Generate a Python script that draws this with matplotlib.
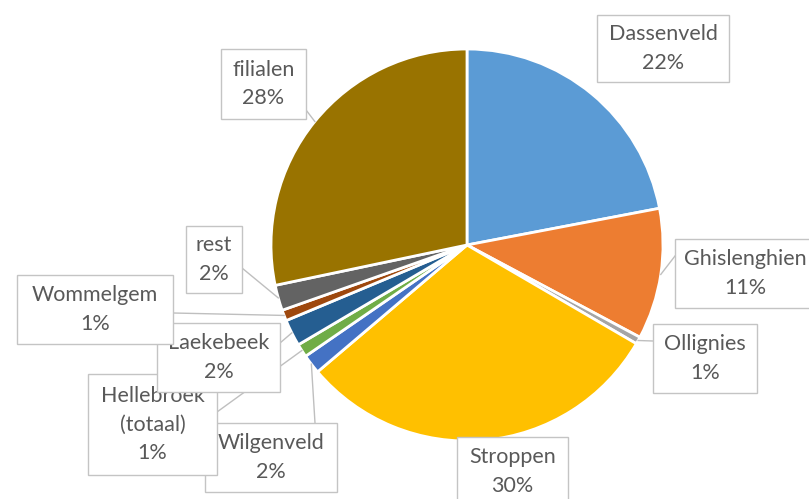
import numpy as np
import matplotlib.pyplot as plt
from matplotlib.patches import Rectangle

plt.rcParams['font.family'] = ['Lato', 'DejaVu Sans']

# aandeel per locatie (%), met de klok mee vanaf boven
names = ['Dassenveld', 'Ghislenghien', 'Ollignies', 'Stroppen', 'Wilgenveld',
         'Hellebroek\n(totaal)', 'Laekebeek', 'Wommelgem', 'rest', 'filialen']
shares = [22.0, 10.8, 0.6, 30.4, 1.6, 1.1, 2.2, 0.9, 2.1, 28.3]
colors = ['#5B9BD5', '#ED7D31', '#A5A5A5', '#FFC000', '#4472C4',
          '#70AD47', '#255E91', '#9E480E', '#636363', '#997300']

W, H = 809, 499
cx, cy, R = 467, 245, 196

# labelkaders (x0, y0, x1, y1 in pixels, y naar beneden) en begin van de lijn
boxes = [(597, 15, 729, 82), (675, 239, 815, 308), (653, 324, 757, 393),
         (457, 437, 568, 506), (205, 423, 337, 492), (88, 374, 217, 475),
         (157, 323, 280, 392), (17, 275, 173, 344), (186, 226, 242, 293),
         (221, 49, 306, 119)]
leader_from = [None, (675, 256), (653, 341), None, (315, 423),
               (217, 412), (280, 343), (173, 313), (242, 268), (303, 106)]
label_z = [5, 5, 5, 5, 3, 4, 5, 6, 5, 5]

fig = plt.figure(figsize=(W / 100, H / 100), dpi=100)
ax = fig.add_axes([0, 0, 1, 1])

ax.pie(shares, colors=colors, startangle=90, counterclock=False,
       center=(cx, H - cy), radius=R,
       wedgeprops=dict(edgecolor='white', linewidth=2, zorder=1))
ax.set_xlim(0, W)
ax.set_ylim(0, H)
ax.set_aspect('equal')
ax.axis('off')

total = sum(shares)
cum = 0.0
for i, name in enumerate(names):
    frac = shares[i] / total
    mid = np.deg2rad(90 - 360 * (cum + frac / 2))
    cum += frac
    tx, ty = cx + R * np.cos(mid), H - cy + R * np.sin(mid)
    z = label_z[i]
    if leader_from[i] is not None:
        sx, sy = leader_from[i]
        ax.plot([sx, tx], [H - sy, ty], color='#BFBFBF', lw=1, zorder=z - 0.5)
    x0, y0, x1, y1 = boxes[i]
    ax.add_patch(Rectangle((x0, H - y1), x1 - x0, y1 - y0, fc='white',
                           ec='#C4C4C4', lw=1, zorder=z))
    ax.text((x0 + x1) / 2, H - (y0 + y1) / 2, f'{name}\n{shares[i]:.0f}%',
            ha='center', va='center', fontsize=15.5, color='#595959',
            linespacing=1.55, zorder=z + 0.1)

fig.savefig('out.png', dpi=100)
